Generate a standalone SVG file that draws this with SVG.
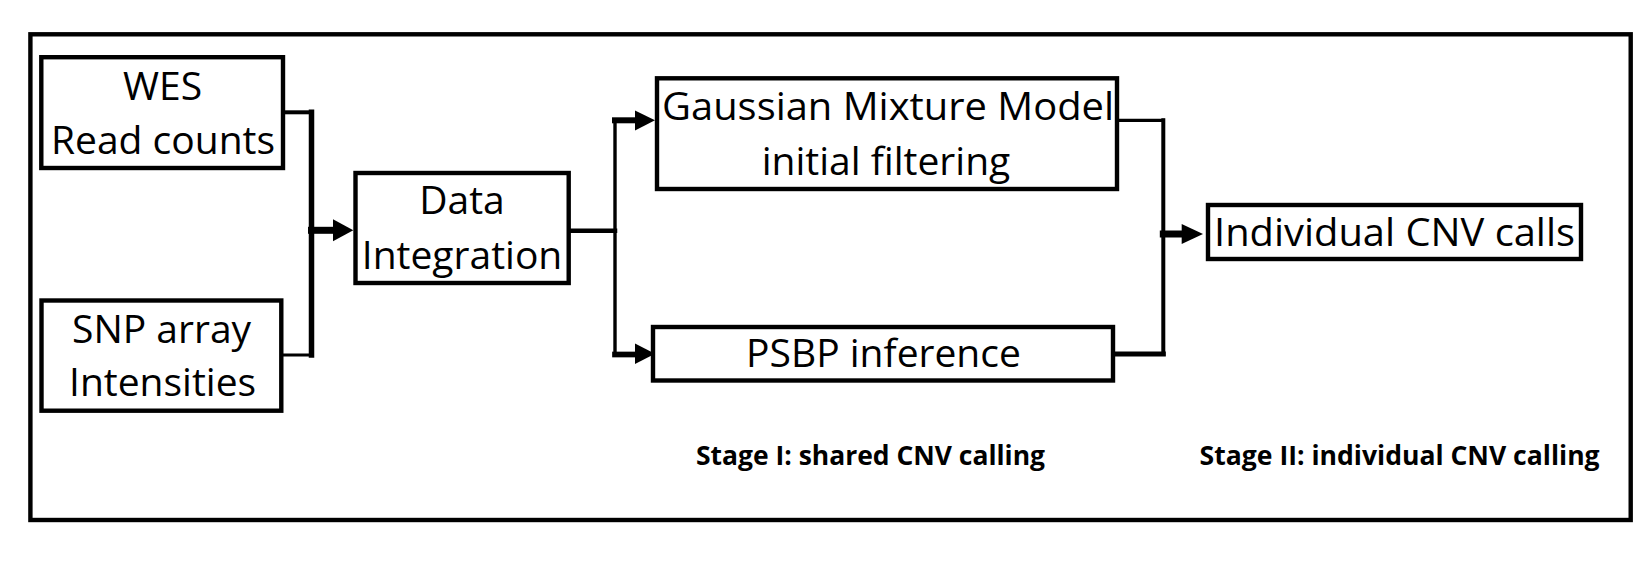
<svg xmlns="http://www.w3.org/2000/svg" width="1650" height="577" viewBox="0 0 1650 577">
<style>
.box{fill:#fff;stroke:#000;stroke-width:4.4}
.frame{fill:none;stroke:#000;stroke-width:4.4}
.lbl{font-family:"Open Sans","Noto Sans","Liberation Sans",sans-serif;font-size:39px;fill:#000;text-anchor:middle}
.stage{font-family:"Open Sans","Noto Sans","Liberation Sans",sans-serif;font-size:26px;font-weight:bold;fill:#000}
.ln{fill:none;stroke:#000;stroke-linecap:square}
.head{fill:#000}
</style>
<rect x="0" y="0" width="1650" height="577" fill="#fff"/>
<rect class="frame" x="30.4" y="34.3" width="1600.3" height="485.7"/>
<g id="wes">
<rect class="box" x="41.3" y="57.2" width="241.7" height="110.8"/>
<text class="lbl" x="162.5" y="100">WES</text>
<text class="lbl" x="163" y="154">Read counts</text>
</g>
<g id="snp">
<rect class="box" x="41.5" y="300.5" width="239.8" height="110.2"/>
<text class="lbl" x="161.6" y="342.7">SNP array</text>
<text class="lbl" x="162.6" y="396">Intensities</text>
</g>
<g id="data">
<rect class="box" x="355.5" y="173" width="213.2" height="110"/>
<text class="lbl" x="462" y="214">Data</text>
<text class="lbl" x="462" y="269.3">Integration</text>
</g>
<g id="gmm">
<rect class="box" x="657" y="78.3" width="460" height="110.7"/>
<text class="lbl" x="888" y="120" textLength="452" lengthAdjust="spacingAndGlyphs">Gaussian Mixture Model</text>
<text class="lbl" x="886" y="175">initial filtering</text>
</g>
<g id="psbp">
<rect class="box" x="653" y="327" width="460" height="53.5"/>
<text class="lbl" x="883.5" y="366.7">PSBP inference</text>
</g>
<g id="indiv">
<rect class="box" x="1208" y="205" width="373" height="54"/>
<text class="lbl" x="1394.5" y="246" textLength="361" lengthAdjust="spacingAndGlyphs">Individual CNV calls</text>
</g>
<g id="stage1">
<text class="stage" x="696" y="465" textLength="349" lengthAdjust="spacingAndGlyphs">Stage I: shared CNV calling</text>
</g>
<g id="stage2">
<text class="stage" x="1199.6" y="465" textLength="400" lengthAdjust="spacingAndGlyphs">Stage II: individual CNV calling</text>
</g>
<g id="connectors">
<path class="ln" d="M285 112.3 H311.5" stroke-width="4"/>
<path class="ln" d="M311.5 112.3 V355" stroke-width="5.5"/>
<path class="ln" d="M283 355 H311.5" stroke-width="3.2"/>
<path class="ln" d="M311.5 230.3 H334" stroke-width="7" stroke-linecap="butt"/>
<polygon class="head" points="333,219.3 353.3,230.3 333,241.3"/>
<path class="ln" d="M570 230.7 H615" stroke-width="4.5"/>
<path class="ln" d="M615 120.3 V354.5" stroke-width="3.4"/>
<path class="ln" d="M615 120.3 H636" stroke-width="6" stroke-linecap="butt"/>
<polygon class="head" points="635,110.5 655,120.3 635,130.5"/>
<path class="ln" d="M615 354.5 H636" stroke-width="5.7" stroke-linecap="butt"/>
<polygon class="head" points="635,343.5 655,353.8 635,364"/>
<path class="ln" d="M1119 120.3 H1163.3" stroke-width="3.3"/>
<path class="ln" d="M1163.3 120.3 V354" stroke-width="4"/>
<path class="ln" d="M1115 354 H1163.3" stroke-width="5"/>
<path class="ln" d="M1163.3 234 H1183" stroke-width="7" stroke-linecap="butt"/>
<polygon class="head" points="1181.7,224 1203,234 1181.7,244"/>
</g>
</svg>
